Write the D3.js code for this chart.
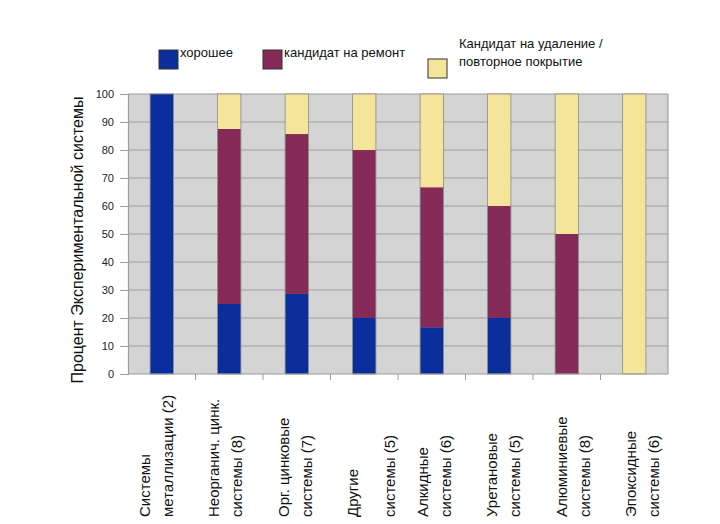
<!DOCTYPE html>
<html>
<head>
<meta charset="utf-8">
<script src="https://cdn.jsdelivr.net/npm/d3@7"></script>
<style>
  html, body { margin: 0; padding: 0; background: #fff; }
  svg { display: block; font-family: "Liberation Sans", Arial, sans-serif; }
</style>
</head>
<body>
<svg id="chart" width="720" height="524"></svg>
<script>
// ---- data ----
const categories = [
  ["Системы", "металлизации (2)"],
  ["Неорганич. цинк.", "системы  (8)"],
  ["Орг. цинковые", "системы (7)"],
  ["Другие", "системы (5)"],
  ["Алкидные", "системы (6)"],
  ["Уретановые", "системы (5)"],
  ["Алюминиевые", "системы (8)"],
  ["Эпоксидные", "системы (6)"]
];
const good      = [100, 25, 28.6, 20, 16.7, 20, 0, 0];
const repair    = [0, 62.5, 57.1, 60, 50, 40, 50, 0];
const removal   = [0, 12.5, 14.3, 20, 33.3, 40, 50, 100];
const seriesNames = ["хорошее", "кандидат на ремонт", ["Кандидат на удаление /", "повторное покрытие"]];
const yTicks = [0, 10, 20, 30, 40, 50, 60, 70, 80, 90, 100];
const yTitle = "Процент Экспериментальной системы";

// ---- layout ----
const colors = ["#0a2f9c", "#862a57", "#f4e59a"];
const svg = d3.select("#chart");
const pLeft = 128, pRight = 668, pTop = 94, pBottom = 374;

const idx = d3.range(categories.length);
const x = d3.scaleBand().domain(idx).range([pLeft, pRight]).paddingInner(0.655).paddingOuter(0.3275);
const y = d3.scaleLinear().domain([0, 100]).range([pBottom, pTop]);

// background
svg.append("rect").attr("x", pLeft).attr("y", pTop).attr("width", pRight - pLeft).attr("height", pBottom - pTop)
  .attr("fill", "#d4d4d4");

// gridlines
svg.append("g").selectAll("line").data(yTicks.filter(d => d > 0)).join("line")
  .attr("x1", pLeft).attr("x2", pRight).attr("y1", d => y(d)).attr("y2", d => y(d))
  .attr("stroke", "#9c9c9c").attr("stroke-width", 1.2);

// right border
svg.append("line").attr("x1", pRight).attr("x2", pRight).attr("y1", pTop).attr("y2", pBottom)
  .attr("stroke", "#a0a0a0").attr("stroke-width", 1.2);

// stacked bars
const table = idx.map(i => ({ i, g: good[i], r: repair[i], e: removal[i] }));
const stack = d3.stack().keys(["g", "r", "e"])(table);
svg.append("g").selectAll("g").data(stack).join("g")
  .attr("fill", (d, k) => colors[k])
  .selectAll("rect").data(d => d.filter(p => p[1] - p[0] > 0)).join("rect")
  .attr("x", d => x(d.data.i)).attr("width", x.bandwidth())
  .attr("y", d => y(d[1])).attr("height", d => y(d[0]) - y(d[1]));

// bar outlines
svg.append("g").selectAll("rect").data(table).join("rect")
  .attr("x", d => x(d.i)).attr("width", x.bandwidth())
  .attr("y", y(100)).attr("height", y(0) - y(100))
  .attr("fill", "none").attr("stroke", "#8a8a8a").attr("stroke-width", 0.8);

// y axis
const yAxis = d3.axisLeft(y).tickValues(yTicks).tickSize(8).tickPadding(6);
const gy = svg.append("g").attr("transform", `translate(${pLeft},0)`).call(yAxis);
gy.select(".domain").attr("stroke", "#9c9c9c").attr("stroke-width", 1.2);
gy.selectAll(".tick line").attr("stroke", "#9c9c9c");
gy.selectAll(".tick text").attr("font-size", 11).attr("fill", "#222")
  .attr("font-family", "'Liberation Sans', Arial, sans-serif");

// x axis (ticks at category boundaries)
const bounds = d3.range(1, categories.length).map(i => pLeft + i * x.step());
svg.append("line").attr("x1", pLeft).attr("x2", pRight).attr("y1", pBottom).attr("y2", pBottom)
  .attr("stroke", "#9c9c9c").attr("stroke-width", 1.2);
svg.append("g").selectAll("line").data(bounds).join("line")
  .attr("x1", d => d).attr("x2", d => d).attr("y1", pBottom).attr("y2", pBottom + 6)
  .attr("stroke", "#9c9c9c");

// x labels
const labelX = d3.scaleLinear().domain([0, categories.length - 1]).range([150, 636]);
const lineGap = 23;
const extraGap = { 3: 14 };
const gl = svg.append("g");
categories.forEach((lines, i) => {
  lines.forEach((t, j) => {
    const bx = labelX(i) + j * (lineGap + (j > 0 && extraGap[i] ? extraGap[i] : 0));
    gl.append("text")
      .attr("transform", `translate(${bx},517) rotate(-90)`)
      .attr("font-size", 15).attr("fill", "#111")
      .attr("text-anchor", "start")
      .text(t);
  });
});

// y title
svg.append("text")
  .attr("transform", `translate(83,240) rotate(-90)`)
  .attr("text-anchor", "middle").attr("font-size", 16).attr("fill", "#111")
  .text(yTitle);

// legend
const legend = [
  { sx: 159, sy: 50, tx: 180, ty: 57 },
  { sx: 263, sy: 50, tx: 284, ty: 57 },
  { sx: 428, sy: 59, tx: 459, ty: 48 }
];
legend.forEach((L, k) => {
  svg.append("rect").attr("x", L.sx).attr("y", L.sy).attr("width", 19).attr("height", 19)
    .attr("fill", colors[k]).attr("stroke", "#333").attr("stroke-width", 1);
  const names = Array.isArray(seriesNames[k]) ? seriesNames[k] : [seriesNames[k]];
  names.forEach((n, j) => {
    svg.append("text").attr("x", L.tx).attr("y", L.ty + j * 18)
      .attr("font-size", 13).attr("fill", "#111").text(n);
  });
});
</script>
</body>
</html>
